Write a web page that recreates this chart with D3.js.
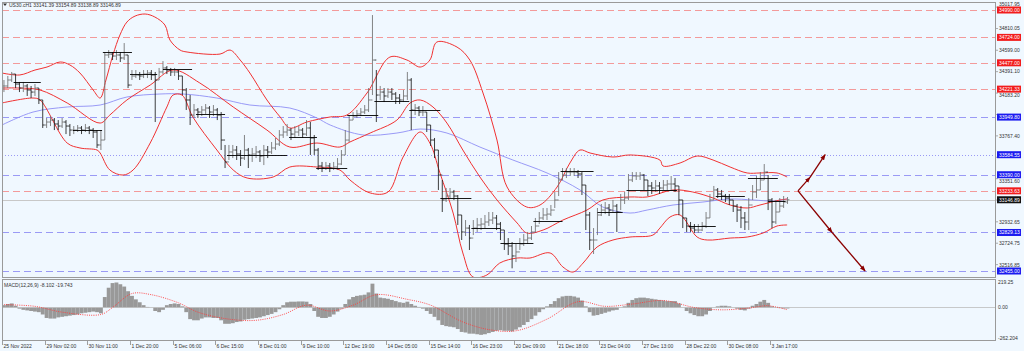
<!DOCTYPE html>
<html><head><meta charset="utf-8">
<script src="https://cdn.jsdelivr.net/npm/d3@7"></script>
<style>html,body{margin:0;padding:0;background:#f0f8ff;}svg{display:block;}text{font-family:"Liberation Sans",Arial,sans-serif;}</style>
</head><body><svg id="c" width="1024" height="351"></svg>
<script>
// ---------------- DATA ----------------
const symbolTitle = "US30.cH1  33141.39 33154.89 33138.89 33146.89";
const macdTitle = "MACD(12,26,9) -8.102 -19.743";
const timeLabels = ["25 Nov 2022","29 Nov 02:00","30 Nov 11:00","1 Dec 20:00","5 Dec 06:00","6 Dec 15:00","8 Dec 01:00","9 Dec 10:00","12 Dec 19:00","14 Dec 05:00","15 Dec 14:00","16 Dec 23:00","20 Dec 09:00","21 Dec 18:00","23 Dec 04:00","27 Dec 13:00","28 Dec 22:00","30 Dec 08:00","3 Jan 17:00"];
const barsPerLabel = 11;
const priceTicks = [35017.95,34810.05,34599.00,34391.10,34183.20,33975.30,33767.40,33559.50,33351.60,33143.70,32932.65,32724.75,32516.85];
const macdTicks = [219.25,0,-262.204];
const macdTickLabels = ["219.25","0.00","-262.204"];

const closes = [34252,34310,34368,34271,34232,34252,34213,34193,34232,34116,
33873,33902,33921,33883,33863,33902,33863,33824,33824,33844,
33824,33844,33824,33805,33679,33727,34553,34562,34543,34553,
34524,34553,34261,34349,34359,34349,34368,34378,34359,34310,
34388,34427,34407,34388,34388,34349,34213,34116,33970,34019,
33999,34019,34038,33999,34019,33970,33727,33514,33611,33630,
33591,33552,33630,33582,33591,33611,33572,33630,33611,33650,
33688,33776,33805,33824,33785,33805,33824,33785,33844,33747,
33630,33475,33455,33475,33455,33465,33494,33582,33727,33921,
33960,33980,33999,34019,34116,34504,34164,34193,34155,34193,
34174,34135,34116,34155,34310,34019,34038,33999,33999,33873,
33727,33630,33387,33145,33183,33222,33183,32999,32834,32872,
32775,32872,32902,32911,32931,32950,32970,32911,32853,32717,
32698,32601,32640,32717,32756,32775,32834,32892,32970,32999,
33008,33047,33145,33339,33387,33416,33416,33416,33397,33290,
32999,32756,32756,32999,33047,33067,33047,33086,33028,33145,
33164,33339,33378,33378,33387,33339,33281,33261,33281,33261,
33290,33300,33300,33281,33145,32970,32892,32872,32853,32853,
32892,32970,33145,33242,33203,33183,33164,33145,33086,33047,
32970,32931,33096,33222,33242,33339,33416,33145,32931,33028,
33086,33125,33147];
const highs = [34310,34349,34388,34368,34291,34291,34271,34252,34271,34232,
34116,33941,33960,33941,33921,33941,33921,33883,33863,33873,
33863,33883,33863,33844,33824,33824,34582,34601,34582,34601,
34582,34669,34553,34407,34407,34388,34407,34407,34407,34388,
34427,34494,34446,34427,34427,34407,34349,34232,34164,34077,
34038,34057,34077,34057,34067,34038,33999,33679,33679,33679,
33669,33630,33776,33650,33650,33669,33630,33679,33669,33708,
33747,33824,33863,33883,33844,33863,33863,33844,33921,33902,
33776,33650,33514,33514,33504,33514,33552,33630,33824,33970,
33999,34019,34038,34067,34232,34941,34407,34252,34232,34232,
34232,34193,34174,34213,34388,34329,34077,34057,34057,33999,
33873,33747,33630,33339,33261,33261,33242,33193,32999,32950,
32902,32950,32970,32970,32999,33028,33028,32999,32931,32853,
32775,32736,32717,32775,32814,32834,32892,32970,33028,33067,
33067,33096,33222,33416,33455,33455,33455,33455,33436,33416,
33290,33028,32872,33067,33106,33125,33106,33145,33106,33203,
33222,33397,33416,33416,33416,33397,33339,33319,33339,33319,
33339,33339,33378,33358,33281,33145,32970,32931,32911,32911,
32931,33028,33203,33281,33261,33242,33203,33203,33145,33106,
33086,33028,33164,33290,33378,33416,33494,33387,33164,33145,
33164,33183,33174];
const lows = [34193,34232,34291,34232,34193,34193,34155,34135,34155,34077,
33844,33844,33863,33824,33824,33844,33785,33766,33785,33805,
33785,33805,33785,33747,33650,33630,33727,34524,34504,34504,
34485,34504,34232,34310,34329,34310,34329,34329,34310,33902,
34310,34368,34368,34349,34349,34310,34164,34019,33873,33941,
33941,33960,33980,33941,33960,33921,33630,33455,33533,33552,
33533,33475,33533,33455,33514,33552,33514,33484,33552,33591,
33630,33669,33747,33766,33727,33747,33766,33747,33766,33582,
33582,33436,33416,33436,33416,33436,33436,33484,33582,33708,
33921,33941,33960,33980,33999,34164,33902,34116,34096,34135,
34116,34077,34077,34096,34116,33824,33970,33960,33960,33805,
33669,33552,33242,33028,33125,33164,33145,32902,32756,32795,
32659,32804,32834,32853,32872,32892,32911,32853,32756,32659,
32610,32481,32542,32659,32698,32717,32756,32834,32911,32950,
32950,32989,33067,33183,33339,33358,33378,33378,33358,33193,
32853,32659,32620,32804,32989,33008,32989,33028,32834,33047,
33106,33145,33319,33339,33339,33242,33183,33203,33222,33203,
33242,33242,33242,33222,32999,32872,32834,32834,32824,32824,
32843,32872,32970,33145,33164,33145,33125,33096,33028,32931,
32872,32853,32853,33145,33164,33242,33339,33047,32872,32911,
33028,33067,33106];

// short horizontal segments [fromBar, toBar, price]
const segments = [[3,10,34291],[18.3,25.8,33824],[26,33.5,34579],[33,40,34365],[41.5,49,34417],[50,57.5,33980],[58,73.5,33582],[74,81.2,33759],[81,89,33455],[89,97,33970],[96,105,34109],[105,113,34019],[113,121,33161],[121,128.5,32870],[128.5,137,32724],[137,144.5,32940],[144,152.5,33426],[153.5,160,33031],[161,174,33242],[177,184,32892],[184,191.5,33186],[192.3,200,33361],[197.5,202,33135]];

// Bollinger bands [bar, price]
const bbUpper = [[0,34378],[4.6,34359],[8.5,34407],[11.6,34436],[15,34485],[17.5,34456],[20.1,34378],[23.5,34213],[25.3,34135],[26.8,34310],[28.6,34553],[30.4,34747],[32.2,34873],[34.3,34931],[36.9,34951],[39.4,34922],[42,34844],[43.3,34698],[45.9,34601],[47.7,34582],[56.2,34562],[58.8,34601],[61.4,34504],[63.9,34378],[68.3,34116],[71.7,33951],[74.2,33844],[78.6,33902],[84.6,33951],[88.9,33970],[94.1,34184],[100,34533],[104.4,34504],[107.8,34436],[110.3,34504],[112.1,34679],[117.3,34630],[120.6,34504],[124,34184],[127.6,33727],[130.2,33271],[135.3,33076],[138.7,33096],[143.1,33271],[146.4,33504],[149,33630],[151.6,33601],[157.5,33562],[161.9,33582],[169.6,33533],[170.4,33475],[174.8,33504],[179.2,33572],[183.3,33533],[187.7,33465],[192.1,33407],[195.4,33407],[199.8,33407],[202.4,33368]];
const bbMiddle = [[0,34232],[4.6,34232],[9.8,34213],[16.8,34087],[25.3,33892],[27.8,33970],[32.2,34116],[38.2,34261],[44.1,34407],[51,34281],[59.6,34048],[68.3,33824],[74.2,33659],[81.2,33698],[87.1,33659],[89.7,33708],[94.9,33795],[101.8,33921],[105.2,34087],[107.8,34116],[111.1,34048],[114.7,33892],[118.8,33630],[123.2,33368],[127.6,33145],[132.8,32921],[135.3,32824],[139.5,32853],[144.6,32950],[150.8,33047],[154.9,33145],[161.9,33174],[166.3,33174],[173,33242],[178.1,33222],[183.3,33164],[187.7,33096],[192.1,33067],[195.4,33096],[200.6,33145],[202.4,33154]];
const bbLower = [[0,34087],[8,34135],[9.8,34116],[16.8,33698],[20.1,33650],[24.5,33630],[25.3,33601],[27.8,33436],[31.2,33387],[33.8,33436],[38.2,33698],[42.5,34048],[44.1,34164],[46.4,34164],[49.2,33951],[55.4,33630],[59.6,33436],[63.2,33358],[69.9,33368],[74.2,33465],[81.2,33465],[87.1,33436],[89.7,33339],[94.9,33213],[99.5,33222],[103.4,33562],[107.8,33805],[110.3,33698],[112.9,33407],[116.3,33018],[118.8,32630],[121.4,32397],[125,32416],[128.3,32532],[132.8,32581],[136.1,32581],[141.3,32630],[144.6,32494],[147.2,32445],[149.8,32532],[153.4,32688],[157.5,32756],[161.9,32785],[167.8,32804],[169.6,32872],[172.2,32979],[174.8,32999],[179.2,32785],[181.8,32756],[187.7,32775],[192.1,32785],[196.2,32824],[199.8,32892],[202.4,32902]];
const slowMA = [[0,33873],[8,33999],[16.8,34048],[25.3,34067],[32.2,34145],[40.7,34174],[46.7,34174],[55.4,34135],[63.9,34067],[74.2,34038],[81.2,33941],[84.6,33873],[93.1,33776],[101.8,33795],[107.8,33834],[114.7,33795],[123.2,33659],[131.7,33533],[140.5,33407],[149,33242],[154.9,33076],[161.9,33018],[166.3,33047],[173,33096],[180.7,33125],[187.7,33154],[193.6,33145],[198.8,33135],[202.4,33154]];

// horizontal levels
const redLevels = [34990.00,34724.00,34477.00,34221.33,33233.63];
const blueLevels = [33949.80,33390.00,32829.13,32455.00];
const dottedLevels = [33584.55];
const currentPrice = 33146.89;

// scenario arrows [bar, price]
const arrowUp = [[205.2,33233.63],[208.3,33365],[212.2,33584.55]];
const arrowDown = [[205.2,33233.63],[214.0,32829.13],[222.5,32455.00]];

// MACD histogram per bar, signal [bar, value]
const macdHist = [20,30,35,15,-10,-20,-25,-30,-35,-40,
-60,-90,-95,-95,-85,-80,-75,-70,-65,-60,
-50,-45,-40,-35,-40,-50,90,170,210,215,
200,180,140,100,70,45,20,5,0,-30,
-40,-20,20,30,35,30,10,-40,-100,-110,
-110,-95,-85,-85,-90,-90,-110,-140,-140,-135,
-125,-120,-105,-100,-95,-90,-85,-75,-65,-55,
-40,-15,20,45,50,50,52,52,50,30,
-30,-80,-90,-90,-80,-60,-35,-10,30,70,
90,100,105,110,130,205,120,85,80,75,
65,55,45,40,50,30,15,5,-10,-30,
-55,-80,-110,-150,-160,-165,-170,-185,-210,-215,
-225,-225,-230,-235,-230,-220,-210,-200,-195,-200,
-200,-205,-190,-170,-150,-125,-100,-70,-40,-15,
10,30,55,80,95,100,100,95,85,60,
10,-40,-70,-65,-55,-45,-35,-25,-20,0,
10,40,65,80,85,85,80,75,70,65,
60,55,55,55,35,0,-30,-50,-65,-75,
-75,-60,-30,0,10,15,15,10,0,-10,
-20,-25,-10,15,30,50,65,40,10,0,
-5,-8,-8];
const macdSignal = [[0,25],[8,10],[15,-40],[25,-60],[28,0],[33,120],[38,110],[45,40],[50,-40],[58,-100],[65,-110],[72,-60],[78,20],[84,-30],[90,20],[96,110],[104,70],[110,20],[118,-120],[125,-190],[132,-200],[140,-100],[148,50],[155,10],[162,30],[170,60],[178,0],[185,-20],[192,-5],[197,15],[202,-20]];

// ---------------- DRAW ----------------
const svg = d3.select("#c");
const W = 1024, H = 351;
const plotL = 2, plotR = 996, mainT = 2, mainB = 277, macdT = 279, macdB = 341;
const totalBars = 256;
const x = d3.scaleLinear().domain([0,totalBars]).range([plotL, plotL + totalBars*(42.67/barsPerLabel)]);
const y = d3.scaleLinear().domain([32455, 34990]).range([271, 10]);
const ym = d3.scaleLinear().domain([-262.204, 219.25]).range([338, 282]);
const bw = x(1)-x(0);

svg.append("rect").attr("width",W).attr("height",H).attr("fill","#f0f8ff");
const defs = svg.append("defs");
defs.append("clipPath").attr("id","cm").append("rect").attr("x",plotL).attr("y",mainT).attr("width",plotR-plotL).attr("height",mainB-mainT);
defs.append("clipPath").attr("id","cd").append("rect").attr("x",plotL).attr("y",macdT).attr("width",plotR-plotL).attr("height",macdB-macdT);
defs.append("marker").attr("id","ah").attr("viewBox","0 0 8 6").attr("refX",7).attr("refY",3)
  .attr("markerWidth",6).attr("markerHeight",5).attr("markerUnits","userSpaceOnUse").attr("orient","auto")
  .append("path").attr("d","M0,0L8,3L0,6z").attr("fill","#8b0000");

const gm = svg.append("g").attr("clip-path","url(#cm)");
// levels
const lvl = (vals, color, dash) => gm.selectAll(null).data(vals).enter().append("line")
  .attr("x1",plotL).attr("x2",plotR).attr("y1",d=>Math.round(y(d))+0.5).attr("y2",d=>Math.round(y(d))+0.5)
  .attr("stroke",color).attr("stroke-width",1).attr("stroke-dasharray",dash);
lvl(redLevels,"#f39a9a","7,4");
lvl(blueLevels,"#9a9af5","7,4");
lvl(dottedLevels,"#9a9af5","1,2");
gm.append("line").attr("x1",plotL).attr("x2",plotR).attr("y1",Math.round(y(currentPrice))+0.5).attr("y2",Math.round(y(currentPrice))+0.5).attr("stroke","#c8c8c8");

// MA and bands
const lineGen = d3.line().x(d=>x(d[0])).y(d=>y(d[1])).curve(d3.curveCatmullRom.alpha(0.5));
gm.append("path").attr("d",lineGen(slowMA)).attr("fill","none").attr("stroke","#8f8ff5").attr("stroke-width",0.9);
[bbUpper,bbMiddle,bbLower].forEach(b=>gm.append("path").attr("d",lineGen(b)).attr("fill","none").attr("stroke","#f03232").attr("stroke-width",1));

// bars (up bars gray, down bars black)
const gb = gm.append("g").attr("stroke-width",0.85);
closes.forEach((c,i)=>{
  const xi = x(i)+bw/2;
  const o = i>0 ? closes[i-1] : c;
  const col = c >= o ? "#6f6f6f" : "#1e1e1e";
  gb.append("line").attr("x1",xi).attr("x2",xi).attr("y1",y(highs[i])).attr("y2",y(lows[i])).attr("stroke",col);
  gb.append("line").attr("x1",xi-bw/2).attr("x2",xi).attr("y1",y(o)).attr("y2",y(o)).attr("stroke",col);
  gb.append("line").attr("x1",xi).attr("x2",xi+bw/2).attr("y1",y(c)).attr("y2",y(c)).attr("stroke",col);
});
// segments
gm.selectAll(null).data(segments).enter().append("line")
  .attr("x1",d=>x(d[0])).attr("x2",d=>x(d[1])).attr("y1",d=>Math.round(y(d[2]))+0.5).attr("y2",d=>Math.round(y(d[2]))+0.5)
  .attr("stroke","#000").attr("stroke-width",0.9);

// arrows
[arrowUp, arrowDown].forEach(a=>{
  for(let k=0;k<a.length-1;k++){
    gm.append("line").attr("x1",x(a[k][0])).attr("y1",y(a[k][1])).attr("x2",x(a[k+1][0])).attr("y2",y(a[k+1][1]))
      .attr("stroke","#8b0000").attr("stroke-width",1.3).attr("marker-end","url(#ah)");
  }
});

// MACD
const gd = svg.append("g").attr("clip-path","url(#cd)");
gd.selectAll(null).data(macdHist).enter().append("rect")
  .attr("x",(d,i)=>x(i)).attr("width",bw)
  .attr("y",d=>Math.min(ym(0),ym(d))).attr("height",d=>Math.abs(ym(d)-ym(0)))
  .attr("fill","#999");
gd.append("line").attr("x1",plotL).attr("x2",plotR).attr("y1",ym(0)).attr("y2",ym(0)).attr("stroke","#bdbdbd").attr("stroke-width",0.8);
const sigGen = d3.line().x(d=>x(d[0])+bw/2).y(d=>ym(d[1])).curve(d3.curveCatmullRom.alpha(0.5));
gd.append("path").attr("d",sigGen(macdSignal)).attr("fill","none").attr("stroke","#ff3b3b").attr("stroke-width",0.9).attr("stroke-dasharray","1,1.2");

// frames
svg.append("rect").attr("x",plotL+0.5).attr("y",mainT+0.5).attr("width",plotR-plotL-1).attr("height",mainB-mainT).attr("fill","none").attr("stroke","#9a9a9a");
svg.append("rect").attr("x",plotL+0.5).attr("y",macdT+0.5).attr("width",plotR-plotL-1).attr("height",macdB-macdT-1).attr("fill","none").attr("stroke","#9a9a9a");

// right axis: labels hidden behind a level tag are skipped, near ones nudged clear
const tagVals = redLevels.concat(blueLevels, dottedLevels, [currentPrice]);
const ga = svg.append("g").attr("font-size",5).attr("fill","#333");
priceTicks.forEach(p=>{
  let ty = y(p);
  const near = tagVals.map(v=>y(v)).filter(t=>Math.abs(t-ty)<6.5);
  ga.append("line").attr("x1",plotR).attr("x2",plotR+2).attr("y1",ty).attr("y2",ty).attr("stroke","#777").attr("stroke-width",0.6);
  if(near.length){
    const t = near[0];
    if(Math.abs(t-ty)<2.75) return;         // fully covered by the tag
    ty = ty < t ? t-6.3 : t+6.3;            // peek out above / below the tag
  }
  ga.append("text").attr("x",plotR+3).attr("y",ty+1.8).text(p.toFixed(2));
});
macdTicks.forEach((v,k)=>{
  ga.append("text").attr("x",plotR+2).attr("y",ym(v)+1.8).text(macdTickLabels[k]);
});
const tag = (v,bg)=>{
  svg.append("rect").attr("x",plotR+1).attr("y",y(v)-3.5).attr("width",24).attr("height",7).attr("fill",bg);
  svg.append("text").attr("x",plotR+3).attr("y",y(v)+1.8).attr("font-size",5).attr("fill","#fff").text(v.toFixed(2));
};
redLevels.forEach(v=>tag(v,"#f21c1c"));
blueLevels.forEach(v=>tag(v,"#1b1bf0"));
dottedLevels.forEach(v=>tag(v,"#1b1bf0"));
tag(currentPrice,"#111");

// bottom axis
const gx = svg.append("g").attr("font-size",5).attr("fill","#333");
timeLabels.forEach((t,k)=>{
  const xx = Math.round(x(k*barsPerLabel))+0.5;
  gx.append("line").attr("x1",xx).attr("x2",xx).attr("y1",macdB).attr("y2",macdB+4).attr("stroke","#777").attr("stroke-width",0.7);
  gx.append("text").attr("x",xx+1).attr("y",macdB+6.5).text(t);
});

// titles
svg.append("path").attr("d","M3,3.5L7,3.5L5,6z").attr("fill","#333");
svg.append("text").attr("x",9).attr("y",6.5).attr("font-size",5).attr("fill","#333").text(symbolTitle);
svg.append("text").attr("x",4).attr("y",287).attr("font-size",5).attr("fill","#333").text(macdTitle);
</script></body></html>
